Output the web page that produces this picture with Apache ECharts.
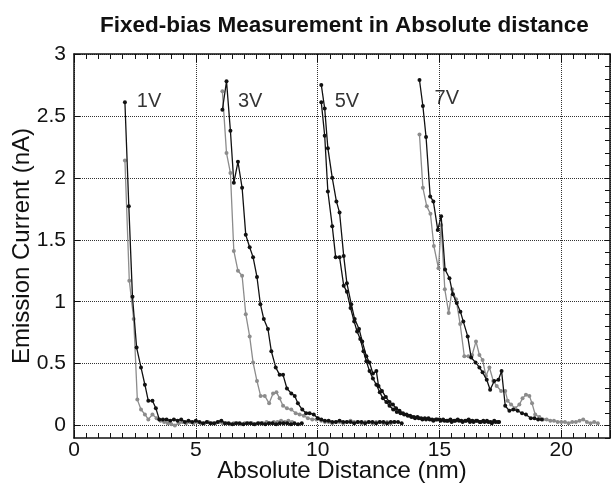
<!DOCTYPE html>
<html>
<head>
<meta charset="utf-8">
<script src="https://cdn.jsdelivr.net/npm/echarts@6/dist/echarts.min.js"></script>
<style>html,body{margin:0;padding:0;background:#fff}#c{width:612px;height:483px}</style>
</head>
<body>
<div id="c"></div>
<script>
// ---- data (x = absolute distance nm, y = emission current nA) ----
var xTickLabels = [0, 5, 10, 15, 20];
var yTickLabels = [0, 0.5, 1, 1.5, 2, 2.5, 3];
var curveLabels = ['1V', '3V', '5V', '7V'];
var curveLabelX = [2.58, 6.73, 10.70, 14.80];
var curveLabelY = [2.62, 2.62, 2.62, 2.64];

var v1Black = [[2.09,2.61],[2.25,1.77],[2.40,1.04],[2.57,0.63],[2.75,0.47],[2.91,0.33],[3.05,0.20],[3.22,0.20],[3.36,0.14],[3.50,0.05],
[3.65,0.05],[3.80,0.05],[3.95,0.04],[4.10,0.05],[4.25,0.04],[4.40,0.05],[4.55,0.03],[4.70,0.04],[4.85,0.03],[5.00,0.04],[5.15,0.03],[5.30,0.02],[5.45,0.03],[5.60,0.02],[5.75,0.02],[5.90,0.03],[6.05,0.04],[6.20,0.02],[6.35,0.02],[6.50,0.01],[6.65,0.02],[6.80,0.02],[6.95,0.01],[7.10,0.02],[7.25,0.02],[7.40,0.01],[7.55,0.02],[7.70,0.02],[7.85,0.01],[8.00,0.02],[8.15,0.02],[8.30,0.01],[8.45,0.02],[8.60,0.02],[8.75,0.02],[8.90,0.01],[9.05,0.02],[9.20,0.01],[9.35,0.02]];
var v1Gray = [[2.09,2.14],[2.27,1.17],[2.45,0.86],[2.60,0.21],[2.75,0.13],[2.91,0.09],[3.05,0.05],[3.22,0.09],[3.39,0.06],[3.55,0.04],[3.70,0.03],[3.85,0.02],[4.00,0.01],[4.14,0.00],[4.30,0.02],[4.45,0.03],[4.60,0.02],[4.75,0.03],[4.90,0.02],[5.05,0.03],[5.20,0.02],[5.35,0.02],[5.50,0.03],[5.65,0.02],[5.80,0.02],[5.95,0.03],[6.10,0.02],[6.25,0.02],[6.40,0.01],[6.55,0.02],[6.70,0.02],[6.85,0.01],[7.00,0.02],[7.15,0.02],[7.30,0.02],[7.45,0.01],[7.60,0.02],[7.75,0.02],[7.90,0.03],[8.05,0.02],[8.20,0.03],[8.35,0.03],[8.50,0.04],[8.65,0.03],[8.80,0.04],[8.95,0.03]];

var v3Black = [[6.09,2.55],[6.26,2.78],[6.42,2.38],[6.56,1.96],[6.73,2.13],[6.90,1.92],[7.05,1.54],[7.21,1.44],[7.35,1.36],[7.51,1.20],[7.65,0.98],[7.79,0.86],[7.96,0.78],[8.10,0.60],[8.28,0.47],[8.44,0.41],[8.58,0.41],[8.74,0.30],[8.92,0.26],[9.06,0.24],[9.19,0.18],[9.37,0.13],[9.53,0.10],[9.67,0.10],[9.84,0.09],[10.01,0.06],
[10.15,0.05],[10.30,0.04],[10.45,0.04],[10.60,0.03],[10.75,0.03],[10.90,0.04],[11.05,0.03],[11.20,0.03],[11.35,0.03],[11.50,0.02],[11.65,0.03],[11.80,0.03],[11.95,0.02],[12.10,0.03],[12.25,0.03],[12.40,0.02],[12.55,0.03],[12.70,0.03],[12.85,0.02],[13.00,0.03],[13.15,0.03],[13.30,0.03],[13.45,0.02]];
var v3Gray = [[6.09,2.70],[6.26,2.20],[6.42,2.04],[6.56,1.41],[6.73,1.25],[6.90,1.21],[7.05,0.90],[7.21,0.72],[7.35,0.51],[7.51,0.36],[7.66,0.24],[7.83,0.24],[8.01,0.18],[8.17,0.26],[8.31,0.27],[8.44,0.22],[8.58,0.16],[8.74,0.14],[8.92,0.13],[9.10,0.10],[9.26,0.09],[9.43,0.08],[9.60,0.06],[9.78,0.05],[9.95,0.05],[10.15,0.04],
[10.30,0.03],[10.45,0.03],[10.60,0.02],[10.75,0.03],[10.90,0.03],[11.05,0.02],[11.20,0.03],[11.35,0.04],[11.50,0.03],[11.65,0.03],[11.80,0.02],[11.95,0.03],[12.10,0.03],[12.25,0.02],[12.40,0.03],[12.55,0.03],[12.70,0.02],[12.85,0.03],[13.00,0.02],[13.15,0.03]];

var v5Right = [[10.15,2.75],[10.29,2.56],[10.42,2.24],[10.60,2.00],[10.77,1.81],[10.90,1.72],[11.07,1.37],[11.20,1.15],[11.38,0.98],[11.52,0.86],[11.70,0.78],[11.83,0.68],[12.00,0.56],[12.13,0.51],[12.27,0.42],[12.41,0.44],[12.50,0.32],[12.64,0.28],[12.80,0.23],[12.95,0.19],[13.09,0.17],[13.22,0.14],[13.36,0.12],[13.50,0.10],[13.65,0.09],[13.80,0.08],[13.95,0.07],[14.10,0.07],[14.25,0.06],[14.40,0.06],[14.55,0.06],[14.70,0.05],[14.85,0.05],[15.00,0.05],[15.15,0.05],[15.30,0.04],[15.45,0.05],[15.60,0.04],[15.75,0.05],[15.90,0.04],[16.05,0.04],[16.20,0.05],[16.35,0.04],[16.50,0.04],[16.65,0.03],[16.80,0.04],[16.95,0.04],[17.10,0.03],[17.25,0.04],[17.40,0.03]];
var v5Left = [[10.15,2.61],[10.29,2.34],[10.42,1.89],[10.60,1.61],[10.74,1.36],[10.90,1.36],[11.07,1.13],[11.20,1.08],[11.35,0.95],[11.50,0.84],[11.62,0.76],[11.75,0.70],[11.88,0.60],[12.00,0.52],[12.13,0.44],[12.27,0.38],[12.41,0.33],[12.55,0.27],[12.68,0.22],[12.82,0.19],[12.95,0.16],[13.10,0.13],[13.25,0.11],[13.40,0.10],[13.55,0.09],[13.70,0.08],[13.85,0.07],[14.00,0.06],[14.15,0.06],[14.30,0.05],[14.45,0.05],[14.60,0.05],[14.75,0.04],[14.90,0.05],[15.05,0.04],[15.20,0.04],[15.35,0.04],[15.50,0.03],[15.65,0.04],[15.80,0.04],[15.95,0.03],[16.10,0.04],[16.25,0.03],[16.40,0.03],[16.55,0.04],[16.70,0.03],[16.85,0.03],[17.00,0.03],[17.15,0.02],[17.30,0.03],[17.45,0.03]];

var v7Black = [[14.18,2.79],[14.32,2.58],[14.45,2.33],[14.62,1.85],[14.75,1.81],[14.93,1.58],[15.07,1.69],[15.23,1.26],[15.41,1.19],[15.55,1.06],[15.71,0.99],[15.86,0.92],[15.98,0.84],[16.16,0.72],[16.30,0.55],[16.48,0.51],[16.64,0.47],[16.77,0.43],[16.94,0.37],[17.08,0.29],[17.25,0.36],[17.42,0.37],[17.55,0.44],[17.70,0.16],[17.87,0.12],[18.03,0.13],[18.21,0.12],[18.39,0.10],[18.55,0.09],[18.75,0.06],[18.90,0.06],[19.05,0.05],[19.20,0.05]];
var v7Gray = [[14.18,2.35],[14.32,1.92],[14.48,1.77],[14.63,1.71],[14.77,1.45],[14.96,1.27],[15.07,1.62],[15.22,1.10],[15.38,0.91],[15.52,1.10],[15.68,1.02],[15.85,0.82],[16.02,0.56],[16.19,0.56],[16.34,0.57],[16.50,0.68],[16.64,0.57],[16.77,0.53],[16.91,0.40],[17.05,0.47],[17.21,0.36],[17.35,0.32],[17.53,0.28],[17.70,0.28],[17.80,0.20],[17.94,0.17],[18.11,0.14],[18.28,0.17],[18.41,0.22],[18.55,0.25],[18.69,0.24],[18.80,0.18],[18.93,0.09],[19.10,0.07],
[19.25,0.05],[19.40,0.05],[19.55,0.04],[19.70,0.04],[19.85,0.03],[20.00,0.03],[20.15,0.03],[20.30,0.02],[20.45,0.03],[20.60,0.03],[20.75,0.04],[20.90,0.05],[21.05,0.03],[21.20,0.02],[21.35,0.03],[21.50,0.02]];

var BLACK = '#111111', GRAY = '#8c8c8c';
var FONT = "'Liberation Sans', Arial, sans-serif";

function line(data, color, z) {
  return {
    type: 'line', data: data, xAxisIndex: 0, yAxisIndex: 0,
    symbol: 'circle', symbolSize: 4, showSymbol: true,
    lineStyle: { color: color, width: 1.3 },
    itemStyle: { color: color },
    z: z, animation: false, silent: true
  };
}

var labelData = curveLabels.map(function (t, i) { return { value: [curveLabelX[i], curveLabelY[i]], name: t }; });

var chart = echarts.init(document.getElementById('c'), null, { renderer: 'canvas' });
chart.setOption({
  backgroundColor: '#ffffff',
  animation: false,
  textStyle: { fontFamily: FONT },
  title: {
    text: 'Fixed-bias Measurement in Absolute distance',
    left: 95, top: 9,
    textStyle: { fontFamily: FONT, fontSize: 22.5, fontWeight: 'bold', color: '#111' }
  },
  grid: { left: 74, right: 2, top: 54, bottom: 45, containLabel: false, outerBoundsMode: 'none' },
  xAxis: [
    {
      type: 'value', position: 'bottom', min: 0, max: 22, interval: 5,
      name: 'Absolute Distance (nm)', nameLocation: 'middle', nameGap: 21, nameMoveOverlap: false,
      nameTextStyle: { fontFamily: FONT, fontSize: 24, color: '#111', verticalAlign: 'top' },
      axisLine: { show: true, onZero: false, lineStyle: { color: '#111', width: 1.5 } },
      axisTick: { show: true, inside: true, length: 8, lineStyle: { color: '#111' } },
      minorTick: { show: true, splitNumber: 10, length: 5, lineStyle: { color: '#111' } },
      axisLabel: { show: true, customValues: xTickLabels, fontSize: 21, color: '#111', margin: 2, fontFamily: FONT },
      splitLine: { show: true, lineStyle: { type: 'dotted', color: '#333', width: 1 } }
    },
    {
      type: 'value', position: 'top', min: 0, max: 22, interval: 5,
      axisLine: { show: true, onZero: false, lineStyle: { color: '#111', width: 1.5 } },
      axisTick: { show: true, inside: true, length: 8, lineStyle: { color: '#111' } },
      minorTick: { show: true, splitNumber: 10, length: 5, lineStyle: { color: '#111' } },
      axisLabel: { show: false },
      splitLine: { show: false }
    }
  ],
  yAxis: [
    {
      type: 'value', position: 'left', min: -0.1, max: 3,
      name: 'Emission Current (nA)', nameLocation: 'middle', nameGap: 40, nameMoveOverlap: false,
      nameTextStyle: { fontFamily: FONT, fontSize: 24, color: '#111' },
      axisLine: { show: true, onZero: false, lineStyle: { color: '#111', width: 1.5 } },
      axisTick: { show: true, inside: true, length: 6, customValues: yTickLabels, lineStyle: { color: '#111' } },
      axisLabel: { show: true, customValues: yTickLabels, fontSize: 21, color: '#111', margin: 8, fontFamily: FONT },
      splitLine: { show: true, lineStyle: { type: 'dotted', color: '#333', width: 1 } }
    },
    {
      type: 'value', position: 'right', min: -0.1, max: 3, interval: 0.1,
      axisLine: { show: true, onZero: false, lineStyle: { color: '#111', width: 1.5 } },
      axisTick: { show: true, inside: true, length: 5, lineStyle: { color: '#111' } },
      axisLabel: { show: false },
      splitLine: { show: false }
    }
  ],
  series: [
    line(v1Gray, GRAY, 2), line(v1Black, BLACK, 3),
    line(v3Gray, GRAY, 2), line(v3Black, BLACK, 3),
    line(v5Left, BLACK, 3), line(v5Right, BLACK, 3),
    line(v7Gray, GRAY, 2), line(v7Black, BLACK, 3),
    {
      type: 'scatter', data: labelData, symbolSize: 0, xAxisIndex: 0, yAxisIndex: 0, silent: true, z: 5,
      label: { show: true, position: 'right', distance: 0, formatter: '{b}', fontSize: 20, color: '#000', fontFamily: FONT }
    }
  ]
});
</script>
</body>
</html>
